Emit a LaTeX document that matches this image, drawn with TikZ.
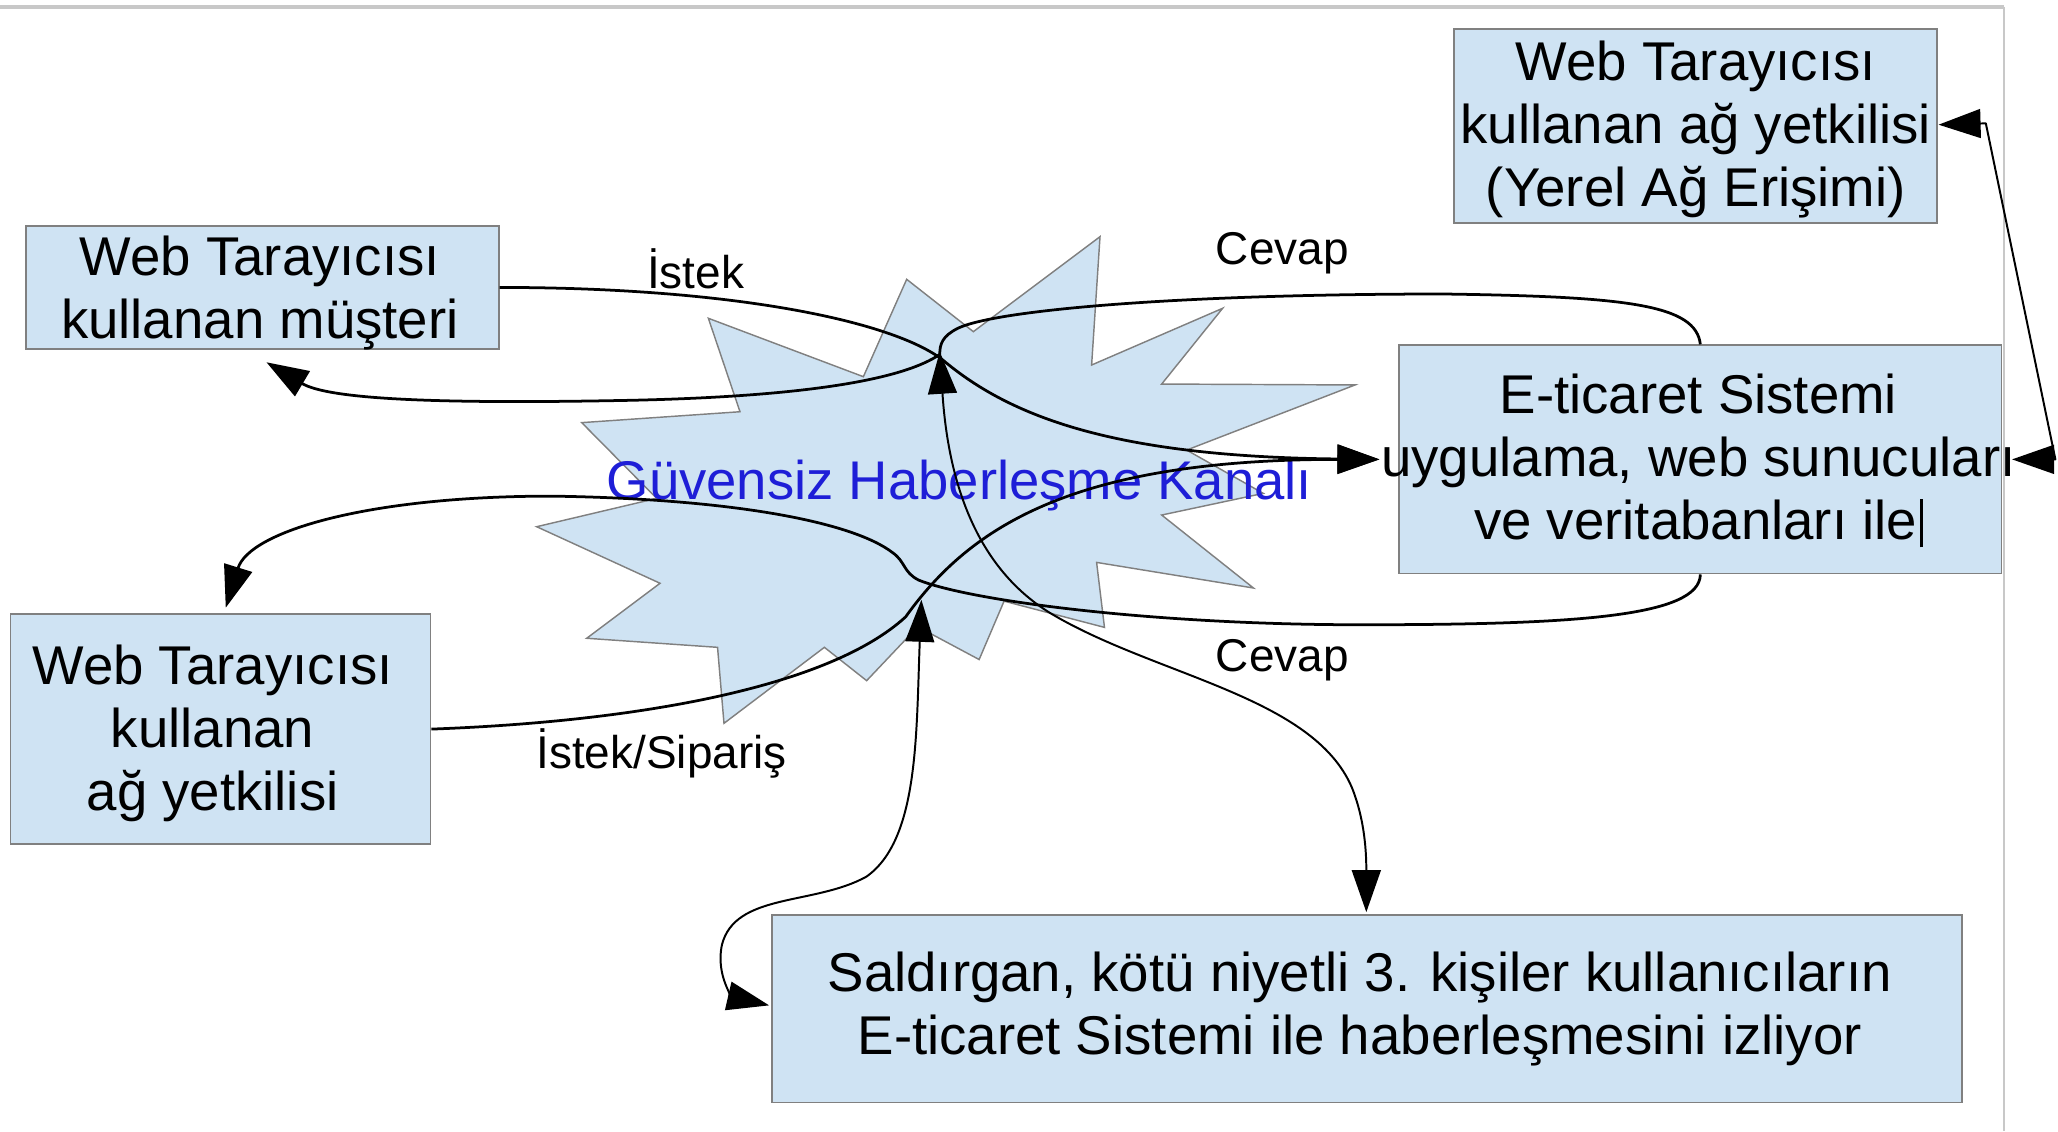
\documentclass[tikz,border=0pt]{standalone}
\usepackage{fontspec}
\setmainfont{Liberation Sans}
\usetikzlibrary{arrows.meta}
\definecolor{boxfill}{RGB}{207,227,243}
\definecolor{boxline}{RGB}{128,128,128}
\definecolor{chanblue}{RGB}{30,30,215}
\definecolor{framegray}{RGB}{200,200,200}

\begin{document}
\begin{tikzpicture}[x=1pt,y=-1pt,
  box/.style={draw=boxline, line width=1.3pt, fill=boxfill, inner sep=0pt},
  boxtext/.style={align=center, inner sep=0pt, font=\fontsize{41.6}{48}\selectfont},
  lbl/.style={font=\fontsize{35}{42}\selectfont, inner sep=0pt},
  conn/.style={line width=2.1pt, black, line join=round},
  thinconn/.style={line width=1.5pt, black, line join=round},
  tip/.style={-{Triangle[length=32pt,width=22pt]}},
  tips/.style={{Triangle[length=32pt,width=22pt]}-{Triangle[length=32pt,width=22pt]}},
]
\useasboundingbox (0,0) rectangle (1568,862);

% page frame
\draw[framegray, line width=3pt] (0,5) -- (1527,5);
\draw[framegray, line width=1.3pt] (1527,5) -- (1527,862);

% insecure channel (star burst)
\draw[draw=boxline, line width=1.1pt, fill=boxfill]
  (838.1,180.3) -- (831.7,278.1) -- (931.5,234.9) -- (885.1,292.6)
  -- (1032.4,293.3) -- (904.1,342.9) -- (962.5,375.9) -- (885.1,392.4)
  -- (955,448) -- (835.5,428.5) -- (841.5,478) -- (765,458)
  -- (746,502.5) -- (699.2,477.5) -- (660.3,518.6) -- (628.1,493.2)
  -- (551.6,551.1) -- (546.7,493.2) -- (447,486.3) -- (502.9,444.4)
  -- (408.9,401.3) -- (500.3,379.7) -- (443.2,322) -- (563.8,313.7)
  -- (539.7,242.5) -- (657.8,287) -- (690.8,212.8) -- (741.6,252.7) -- cycle;
\node[font=\fontsize{41.5}{48}\selectfont, text=chanblue, inner sep=0pt] (chan) at (731,370)
  {Güvensiz Haberleşme Kanalı};

% boxes
\node[box, minimum width=368pt, minimum height=148pt] (lan) at (1292,96) {};
\node[boxtext] (lanText) at (1292,98.5)
  {Web Tarayıcısı\\kullanan ağ yetkilisi\\(Yerel Ağ Erişimi)};
\node[box, minimum width=360pt, minimum height=94pt] (cust) at (200,219) {};
\node[boxtext] (custText) at (198,223.5) {Web Tarayıcısı\\kullanan müşteri};
\node[box, minimum width=459pt, minimum height=174pt] (shop) at (1295.5,350) {};
\node[boxtext] (shopText) at (1294,351)
  {E-ticaret Sistemi\\uygulama, web sunucuları\\ve veritabanları ile\hspace{2pt}\rule[-6pt]{2.2pt}{37pt}};
\node[box, minimum width=320pt, minimum height=175pt] (admin) at (168,555.5) {};
\node[boxtext] (adminText) at (162,559) {Web Tarayıcısı\\kullanan\\ağ yetkilisi};
\node[box, minimum width=907pt, minimum height=143pt] (att) at (1041.5,768.5) {};
\node[boxtext] (attText) at (1036,768.5)
  {Saldırgan, kötü niyetli 3. kişiler kullanıcıların\\E-ticaret Sistemi ile haberleşmesini izliyor};

% connector end points
\coordinate (shopIn) at (1051,350);
\coordinate (shopInR) at (1533,350);
\coordinate (custIn) at (203,276);
\coordinate (adminIn) at (172,463);
\coordinate (lanIn) at (1477,95);
\coordinate (upTip) at (716,268);
\coordinate (midTip) at (702,457);
\coordinate (attTop) at (1041,695);
\coordinate (attIn) at (586,766);

% labels
\node[lbl] (lIstek) at (530,205) {İstek};
\node[lbl] (lCevapA) at (977,193) {Cevap};
\node[lbl] (lCevapB) at (977,503) {Cevap};
\node[lbl] (lSiparis) at (504,574) {İstek/Sipariş};

% request from the customer
\draw[conn,tip] (cust.east) .. controls (560,219) and (680,245) .. (718,274)
  .. controls (770,318) and (850,348) .. (shopIn);
% answer to the customer
\draw[conn,tip] (shop.north) .. controls (1292,232) and (1240,226) .. (1100,224)
  .. controls (900,224) and (760,236) .. (730,250)
  .. controls (718,256) and (716,262) .. (716,270)
  .. controls (690,288) and (620,302) .. (480,305)
  .. controls (330,308) and (250,304) .. (custIn);
% answer to the network admin
\draw[conn,tip] (shop.south) .. controls (1295,470) and (1200,476) .. (1036,476)
  .. controls (880,476) and (740,458) .. (700,442)
  .. controls (688,436) and (690,428) .. (680,421)
  .. controls (650,398) and (560,380) .. (420,378)
  .. controls (280,378) and (190,405) .. (adminIn);
% request / order from the network admin
\draw[conn,tip] (admin.east) .. controls (480,550) and (630,525) .. (690,470)
  .. controls (740,400) and (820,350) .. (shopIn);
% attacker taps
\draw[thinconn,tips] (upTip) .. controls (722,360) and (740,430) .. (800,467)
  .. controls (880,515) and (1000,530) .. (1030,600)
  .. controls (1040,625) and (1041,650) .. (attTop);
\draw[thinconn,tips] (midTip) .. controls (698,560) and (700,640) .. (660,668)
  .. controls (620,690) and (560,680) .. (550,720)
  .. controls (545,745) and (560,760) .. (attIn);
% local access
\draw[thinconn,tips] (lanIn) -- (1513,94) -- (1566,350) -- (shopInR);
\end{tikzpicture}
\end{document}
